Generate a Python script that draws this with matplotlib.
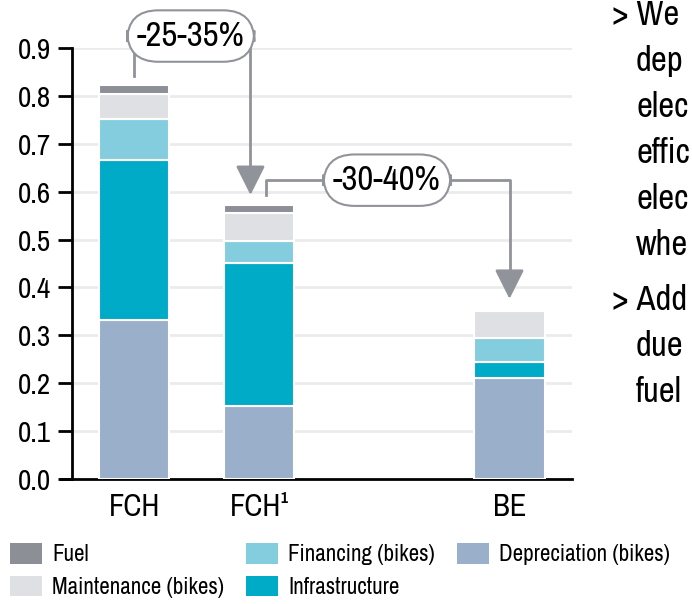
import numpy as np
import matplotlib.pyplot as plt
from matplotlib.patches import Patch

plt.rcParams['font.family'] = ['Archivo Narrow', 'Liberation Sans', 'DejaVu Sans']

# data
categories = ['FCH', 'FCH¹', 'BE']
positions = [0, 1, 3]
depreciation = [0.333, 0.153, 0.210]
infrastructure = [0.334, 0.299, 0.034]
financing = [0.085, 0.045, 0.050]
maintenance = [0.053, 0.058, 0.056]
fuel = [0.017, 0.017, 0.0]
yticks = [0.0, 0.1, 0.2, 0.3, 0.4, 0.5, 0.6, 0.7, 0.8, 0.9]
change_labels = ['-25-35%', '-30-40%']

colors = {
    'Depreciation (bikes)': '#9aafca',
    'Infrastructure': '#00abc8',
    'Financing (bikes)': '#84cddf',
    'Maintenance (bikes)': '#dfe0e3',
    'Fuel': '#8c9096',
}
series = [('Depreciation (bikes)', depreciation), ('Infrastructure', infrastructure),
          ('Financing (bikes)', financing), ('Maintenance (bikes)', maintenance),
          ('Fuel', fuel)]

fig = plt.figure(figsize=(6.92, 6.04), dpi=100)
ax = fig.add_axes([0.104, 0.207, 0.7226, 0.7135])

bottom = np.zeros(len(positions))
for name, vals in series:
    vals = np.array(vals)
    ax.bar(positions, vals, width=0.56, bottom=bottom, color=colors[name],
           edgecolor='white', linewidth=1.5, zorder=3)
    bottom += vals
totals = bottom

ax.set_xlim(-0.5, 3.5)
ax.set_ylim(0, 0.9)
ax.set_yticks(yticks)
ax.set_yticklabels(['%.1f' % t for t in yticks], fontsize=21)
ax.set_xticks(positions)
ax.set_xticklabels(categories, fontsize=22)
ax.tick_params(axis='x', length=0, pad=10)
ax.tick_params(axis='y', length=10, width=2, pad=5)
for t in yticks[1:]:
    ax.axhline(t, color='#ebebed', lw=2, zorder=1)
for s in ['top', 'right']:
    ax.spines[s].set_visible(False)
ax.spines['left'].set_linewidth(2)
ax.spines['bottom'].set_linewidth(2)
ax.spines['bottom'].set_bounds(-0.59, 3.5)

gray = '#909399'
lw = 2
arrow = dict(arrowstyle='-|>,head_width=0.45,head_length=0.9', color=gray, lw=lw,
             mutation_scale=20, shrinkA=0, shrinkB=0)
box = dict(boxstyle='round,pad=0.28,rounding_size=0.9', fc='white', ec=gray, lw=1.5)

# -25-35% connector: FCH -> FCH¹
bx, by = 0.45, 0.925
ax.plot([positions[0], positions[0]], [totals[0] + 0.019, by], color=gray, lw=lw, clip_on=False, zorder=4)
ax.plot([0.928, 0.928], [by, totals[1] + 0.06], color=gray, lw=lw, clip_on=False, zorder=4)
ax.annotate('', xy=(0.928, totals[1] + 0.021), xytext=(0.928, totals[1] + 0.07),
            arrowprops=arrow, annotation_clip=False, zorder=4)
ax.text(bx, by, change_labels[0], fontsize=25, ha='center', va='center', zorder=5, bbox=box)

# -30-40% connector: FCH¹ -> BE
cx, cy = 2.02, 0.624
ax.plot([1.054, 1.054, cx], [totals[1] + 0.021, cy, cy], color=gray, lw=lw, clip_on=False, zorder=4)
ax.plot([cx, positions[2], positions[2]], [cy, cy, totals[2] + 0.06], color=gray, lw=lw,
        clip_on=False, zorder=4)
ax.annotate('', xy=(positions[2], totals[2] + 0.026), xytext=(positions[2], totals[2] + 0.075),
            arrowprops=arrow, annotation_clip=False, zorder=4)
ax.text(cx, cy, change_labels[1], fontsize=25, ha='center', va='center', zorder=5, bbox=box)

# side text (cut off at the figure edge, as in the source slide)
side_lines = ['> We', 'dep', 'elec', 'effic', 'elec', 'whe']
side_lines2 = ['> Add', 'due', 'fuel']
for k, block in enumerate([side_lines, side_lines2]):
    y0 = [15, 300][k]
    for i, s in enumerate(block):
        x = 612 if s.startswith('>') else 636
        fig.text(x / 692, 1 - (y0 + 46 * i) / 604, s, fontsize=25, va='center', ha='left')

# legend
order = ['Fuel', 'Maintenance (bikes)', 'Financing (bikes)', 'Infrastructure', 'Depreciation (bikes)']
handles = [Patch(facecolor=colors[n], edgecolor='none') for n in order]
fig.legend(handles, order, ncol=3, loc='upper left', bbox_to_anchor=(10 / 692, 1 - 543 / 604),
           frameon=False, fontsize=16.6, handlelength=1.38, handleheight=1.0,
           handletextpad=0.45, columnspacing=0.95, labelspacing=0.45, borderaxespad=0, borderpad=0)

fig.savefig('out.png', dpi=100)
